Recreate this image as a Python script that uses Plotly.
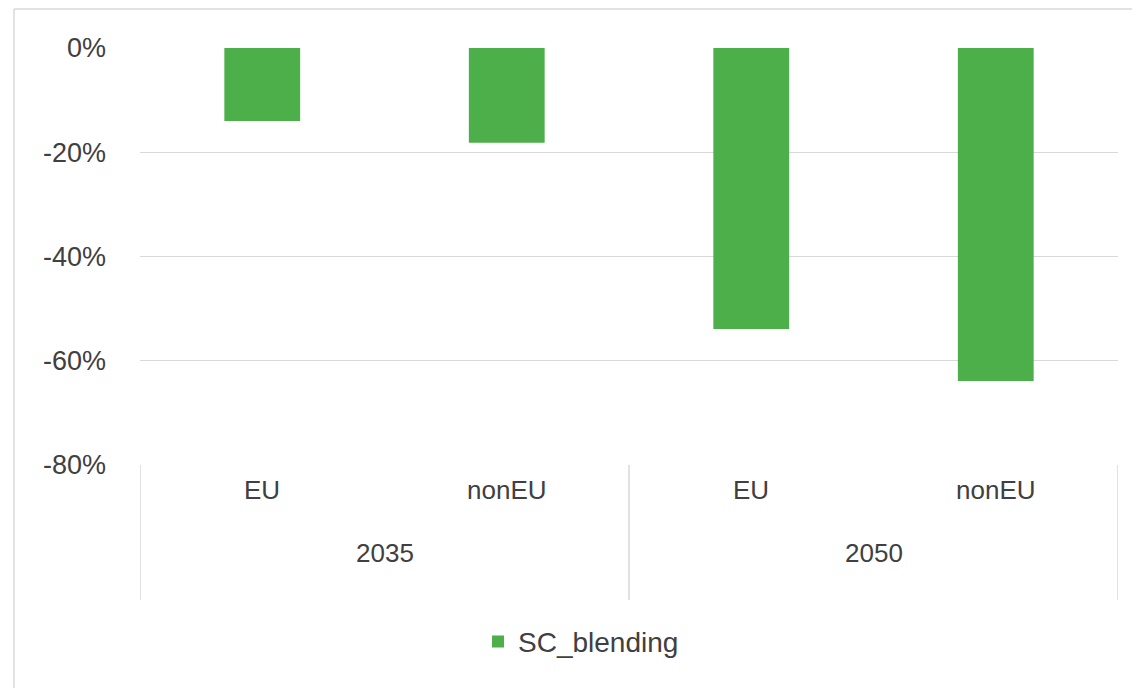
import plotly.graph_objects as go

# ---- data ----
years = ["2035", "2035", "2050", "2050"]
regions = ["EU", "nonEU", "EU", "nonEU"]
sc_blending = [-0.140, -0.182, -0.539, -0.639]
series_name = "SC_blending"
ytick_vals = [0, -0.2, -0.4, -0.6, -0.8]
ytick_text = ["0%", "-20%", "-40%", "-60%", "-80%"]

GREEN = "#4DAF4A"
GRID = "#D9D9D9"
TXT = "#404040"
FONT = "Liberation Sans"

keys = [f"{y} {r}" for y, r in zip(years, regions)]

fig = go.Figure()
fig.add_trace(go.Bar(
    x=keys, y=sc_blending, name=series_name,
    marker=dict(color=GREEN, line=dict(width=0)),
    width=0.31, showlegend=True,
))

# Region labels (inner level of category axis)
for k, r in zip(keys, regions):
    fig.add_annotation(x=k, xref="x", y=-0.060, yref="paper", text=r,
                       showarrow=False, font=dict(family=FONT, size=26, color=TXT),
                       yanchor="middle")

# Year labels (outer level) and dividers
groups = []
for i, y in enumerate(years):
    if not groups or groups[-1][0] != y:
        groups.append([y, i, i])
    else:
        groups[-1][2] = i
for y, i0, i1 in groups:
    fig.add_annotation(x=(i0 + i1) / 2, xref="x", y=-0.211, yref="paper", text=y,
                       showarrow=False, font=dict(family=FONT, size=26, color=TXT),
                       yanchor="middle")
edges = [groups[0][1] - 0.5] + [g[2] + 0.5 for g in groups]
for e in edges:
    fig.add_shape(type="line", xref="x", yref="paper", x0=e, x1=e, y0=0, y1=-0.324,
                  line=dict(color=GRID, width=1.5))

# Outer chart border (top and left, as in the cropped screenshot)
bx = (14 - 140) / 978
by = (465 - 9) / 417
fig.add_shape(type="line", xref="paper", yref="paper", x0=bx, x1=1.2, y0=by, y1=by,
              line=dict(color=GRID, width=1.5))
fig.add_shape(type="line", xref="paper", yref="paper", x0=bx, x1=bx, y0=by, y1=-1,
              line=dict(color=GRID, width=1.5))

fig.update_layout(
    width=1132, height=688, autosize=False,
    margin=dict(l=140, r=14, t=48, b=223, autoexpand=False),
    paper_bgcolor="white", plot_bgcolor="white",
    font=dict(family=FONT, size=26, color=TXT),
    xaxis=dict(showticklabels=False, showgrid=False, zeroline=False, showline=False,
               ticks="", range=[-0.5, len(keys) - 0.5]),
    yaxis=dict(range=[-0.8, 0], tickvals=ytick_vals, ticktext=ytick_text,
               showgrid=True, gridcolor=GRID, gridwidth=1.2, zeroline=False,
               showline=False, ticks="", ticklabelstandoff=33,
               tickfont=dict(family=FONT, size=27, color=TXT)),
    legend=dict(orientation="h", x=0.3456, xanchor="left",
                y=-0.424, yanchor="middle",
                font=dict(family=FONT, size=28, color=TXT)),
    showlegend=True,
)

fig.write_html("out.html")
